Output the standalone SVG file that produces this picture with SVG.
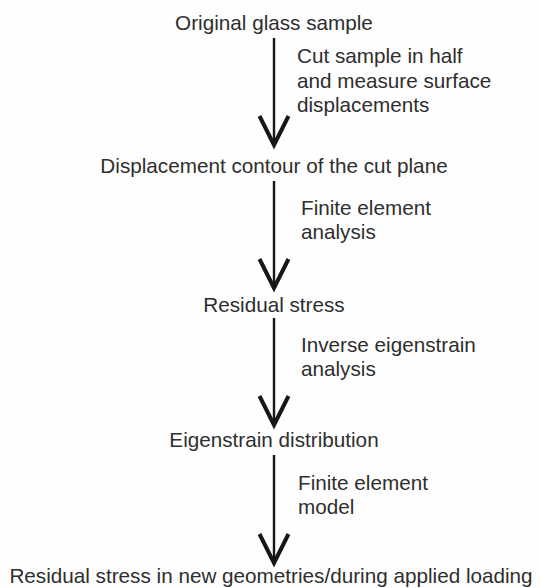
<svg xmlns="http://www.w3.org/2000/svg" width="541" height="588" viewBox="0 0 541 588">
<style>
text{font-family:"Liberation Sans",Arial,sans-serif;font-size:20.7px;fill:#2e2e2e}
.node text{text-anchor:middle}
.shaft{stroke:#161616;stroke-width:2.4;fill:none}
.head{stroke:#161616;stroke-width:4;fill:none;stroke-linejoin:miter;stroke-linecap:butt}
</style>
<rect width="541" height="588" fill="#fefefe"/>
<g id="n1" class="node"><text x="274" y="30">Original glass sample</text></g>
<g id="n2" class="node"><text x="274" y="173">Displacement contour of the cut plane</text></g>
<g id="n3" class="node"><text x="274" y="312">Residual stress</text></g>
<g id="n4" class="node"><text x="274" y="447">Eigenstrain distribution</text></g>
<g id="n5" class="node"><text x="271" y="583">Residual stress in new geometries/during applied loading</text></g>
<g id="connectors">
<line class="shaft" x1="274" y1="38" x2="274" y2="144"/>
<polyline class="head" points="259.5,116 274,145 288.5,116"/>
<line class="shaft" x1="274" y1="181" x2="274" y2="287"/>
<polyline class="head" points="259.5,259 274,288 288.5,259"/>
<line class="shaft" x1="274" y1="318" x2="274" y2="424"/>
<polyline class="head" points="259.5,396 274,425 288.5,396"/>
<line class="shaft" x1="274" y1="455" x2="274" y2="562"/>
<polyline class="head" points="259.5,534 274,563 288.5,534"/>
</g>
<g id="labels">
<text x="297" y="63">Cut sample in half</text>
<text x="297" y="88">and measure surface</text>
<text x="297" y="112">displacements</text>
<text x="301" y="215">Finite element</text>
<text x="301" y="239">analysis</text>
<text x="301" y="352">Inverse eigenstrain</text>
<text x="301" y="376">analysis</text>
<text x="298" y="490">Finite element</text>
<text x="298" y="514">model</text>
</g>
</svg>
